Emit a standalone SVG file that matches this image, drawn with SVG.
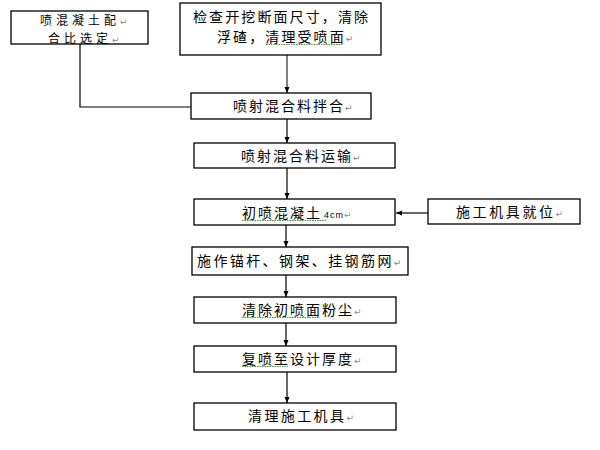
<svg xmlns="http://www.w3.org/2000/svg" width="600" height="450" viewBox="0 0 600 450">
<defs>
<style>
.box{fill:#fff;stroke:#000;stroke-width:1.3}
.t{font-family:"Noto Sans CJK SC","Liberation Sans",sans-serif;font-size:14px;letter-spacing:2px;fill:#000}
.pm{font-family:"DejaVu Sans",sans-serif;font-size:9px;fill:#888;letter-spacing:0}
.c{fill:none;stroke:#000;stroke-width:1.2}
.sq{fill:none;stroke:#3a9a3a;stroke-width:1;stroke-dasharray:1.5 1}
</style>
<marker id="ah" viewBox="0 0 6 6" refX="6" refY="3" markerWidth="6" markerHeight="6" markerUnits="userSpaceOnUse" orient="auto">
<path d="M0,0.5 L6,3 L0,5.5 Z" fill="#000"/>
</marker>
</defs>
<rect width="600" height="450" fill="#fff"/>
<g id="connectors">
<polyline class="c" points="80,44 80,107 191,107" stroke="#444"/>
<line x1="287" y1="55" x2="287" y2="93" stroke="#808080" stroke-width="2" marker-end="url(#ah)"/>
<line class="c" x1="287" y1="119" x2="287" y2="143" marker-end="url(#ah)"/>
<line class="c" x1="287" y1="168" x2="287" y2="199" marker-end="url(#ah)"/>
<line class="c" x1="428" y1="213" x2="396" y2="213" marker-end="url(#ah)"/>
<line class="c" x1="286" y1="225" x2="286" y2="247" marker-end="url(#ah)"/>
<line class="c" x1="286" y1="275" x2="286" y2="297" marker-end="url(#ah)"/>
<line class="c" x1="286" y1="323" x2="286" y2="346" marker-end="url(#ah)"/>
<line class="c" x1="287" y1="372" x2="287" y2="403" stroke-width="1.6" marker-end="url(#ah)"/>
</g>
<g id="n1">
<rect class="box" x="11" y="11" width="137" height="33"/>
<text class="t" style="font-size:12px"><tspan x="40" y="25" style="letter-spacing:4px">喷混凝土配</tspan><tspan class="pm">↵</tspan><tspan x="48" y="42.5" style="letter-spacing:4px">合比选定</tspan><tspan class="pm">↵</tspan></text>
</g>
<g id="n2">
<rect class="box" x="180" y="3" width="201" height="52"/>
<text class="t"><tspan x="193" y="22" style="letter-spacing:2.1px">检查开挖断面尺寸，清除</tspan><tspan x="217" y="42" style="letter-spacing:2.1px">浮碴，清理受喷面</tspan><tspan class="pm">↵</tspan></text>
<path class="sq" d="M266,44.5 L343,44.5"/>
</g>
<g id="n3">
<rect class="box" x="191" y="93" width="180" height="26"/>
<text class="t" x="233" y="111">喷射混合料拌合<tspan class="pm">↵</tspan></text>
</g>
<g id="n4">
<rect class="box" x="194" y="143" width="201" height="25"/>
<text class="t" x="241" y="161">喷射混合料运输<tspan class="pm">↵</tspan></text>
</g>
<g id="n5">
<rect class="box" x="194" y="199" width="201" height="26"/>
<text class="t" x="242" y="218">初喷混凝土<tspan font-family="Liberation Sans,sans-serif" font-size="9" dx="2" style="letter-spacing:1px">4cm</tspan><tspan class="pm">↵</tspan></text>
<path class="sq" d="M242,220.5 L327,220.5"/>
</g>
<g id="n6">
<rect class="box" x="428" y="199" width="152" height="25"/>
<text class="t" x="456" y="217" style="letter-spacing:2.6px">施工机具就位<tspan class="pm">↵</tspan></text>
</g>
<g id="n7">
<rect class="box" x="192" y="247" width="216" height="28"/>
<text class="t" x="197" y="266" style="letter-spacing:2.4px">施作锚杆、钢架、挂钢筋网<tspan class="pm">↵</tspan></text>
</g>
<g id="n8">
<rect class="box" x="194" y="297" width="202" height="26"/>
<text class="t" x="242" y="315">清除初喷面粉尘<tspan class="pm">↵</tspan></text>
<path class="sq" d="M242,317.5 L320,317.5"/>
</g>
<g id="n9">
<rect class="box" x="194" y="346" width="202" height="26"/>
<text class="t" x="242" y="364">复喷至设计厚度<tspan class="pm">↵</tspan></text>
<path class="sq" d="M242,366.5 L288,366.5"/>
</g>
<g id="n10">
<rect class="box" x="194" y="403" width="202" height="27"/>
<text class="t" x="248" y="421" style="letter-spacing:2.4px">清理施工机具<tspan class="pm">↵</tspan></text>
</g>
</svg>
